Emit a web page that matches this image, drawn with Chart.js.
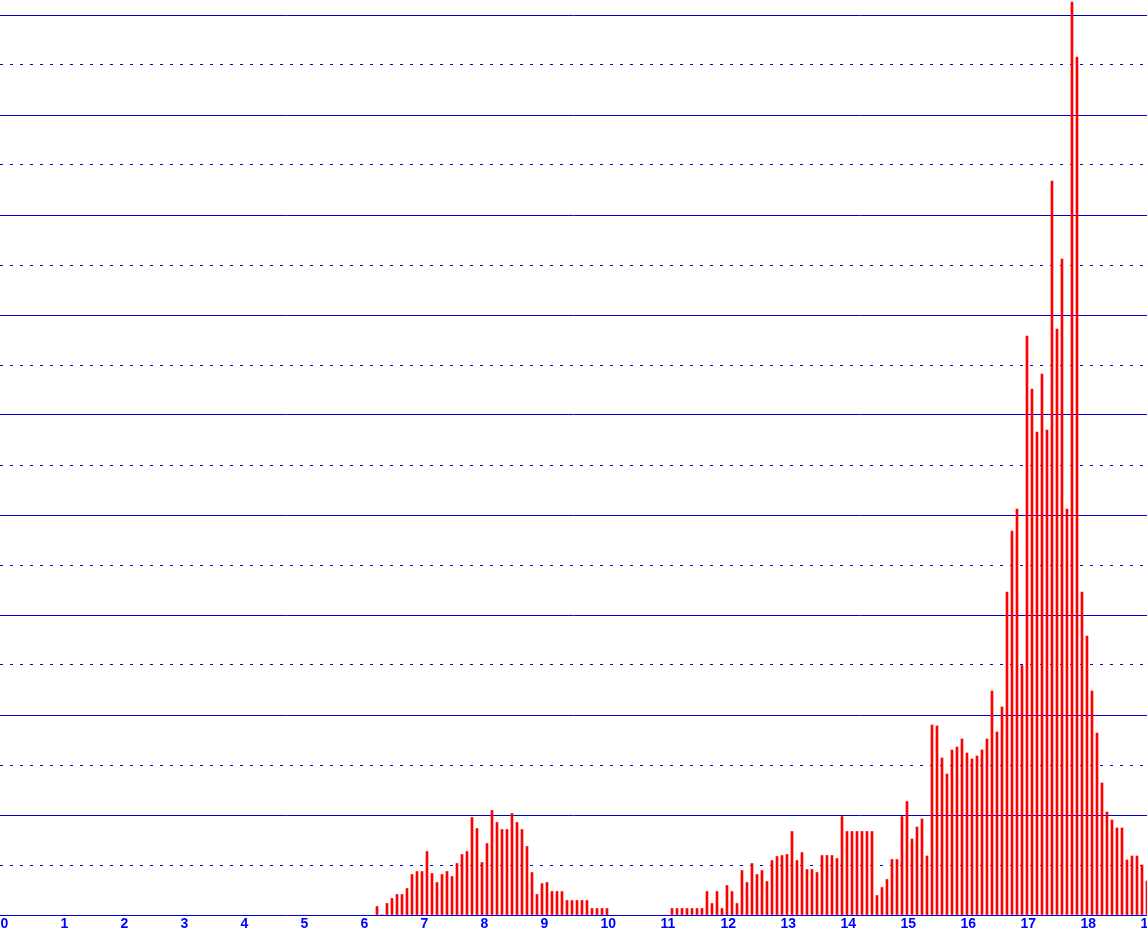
<!DOCTYPE html>
<html>
<head>
<meta charset="utf-8">
<title>Histogram by hour</title>
<script src="https://cdn.jsdelivr.net/npm/chart.js@4.4.1/dist/chart.umd.min.js"></script>
<style>
  html, body { margin: 0; padding: 0; background: #fff; overflow: hidden; }
  #wrap { position: relative; width: 1147px; height: 935px; }
</style>
</head>
<body>
<div id="wrap"><canvas id="histChart"></canvas></div>
<script>
// 5-minute bins, index 0 = 0:00
const BIN_MINUTES = 5;

// 6:10 - 10:05
const morningStart = 74;
const morningBins = [
  1.7, 0, 2.3, 3.3, 4.1, 4.1, 5.3, 8.1, 8.7, 8.7, 12.7, 8.3,
  6.5, 8.1, 8.7, 7.7, 10.3, 12.1, 12.7, 19.5, 17.3, 10.5, 14.3, 20.9,
  18.5, 17.1, 17.1, 20.3, 18.5, 17.1, 13.7, 8.5, 4.1, 6.3, 6.5, 4.7,
  4.7, 4.7, 2.9, 2.9, 2.9, 2.9, 2.9, 1.3, 1.3, 1.3, 1.3
];

// 11:05 - 15:05
const middayStart = 133;
const middayBins = [
  1.3, 1.3, 1.3, 1.3, 1.3, 1.3, 1.3, 4.7, 2.3, 4.7, 1.3, 5.9,
  4.7, 2.3, 8.9, 6.5, 10.3, 8.1, 8.9, 6.7, 10.9, 11.7, 11.9, 12.1,
  16.7, 10.9, 12.5, 9.1, 9.1, 8.5, 11.9, 11.9, 11.9, 11.3, 19.7, 16.7,
  16.7, 16.7, 16.7, 16.7, 16.7, 3.9, 5.5, 7.1, 11.1, 11.1, 19.7, 22.7
];

// 15:05 - 19:05
const eveningStart = 181;
const eveningBins = [
  15.2, 17.6, 19.2, 11.8, 38.0, 37.8, 31.4, 28.2, 33.0, 33.6, 35.2, 32.4,
  31.2, 31.8, 33.0, 35.2, 44.8, 36.6, 41.6, 64.6, 76.8, 81.2, 49.9, 115.8,
  105.2, 96.6, 108.2, 97.0, 146.8, 117.2, 131.2, 81.2, 182.6, 171.6, 64.6, 55.8,
  44.8, 36.4, 26.4, 20.6, 19.0, 17.4, 17.4, 11.0, 11.8, 11.8, 10.0, 6.8
];

const hourTicks = [0, 1, 2, 3, 4, 5, 6, 7, 8, 9, 10, 11, 12, 13, 14, 15, 16, 17, 18, 19];
const levelTicks = [0, 10, 20, 30, 40, 50, 60, 70, 80, 90, 100, 110, 120, 130, 140, 150, 160, 170, 180];
const yMax = 183;

function toPoints(start, values) {
    return values.map((v, i) => ({ x: (start + i + 0.5) * BIN_MINUTES / 60, y: v }));
}

const points = [].concat(
    toPoints(morningStart, morningBins),
    toPoints(middayStart, middayBins),
    toPoints(eveningStart, eveningBins)
);

const ctx = document.getElementById('histChart').getContext('2d');
const histChart = new Chart(ctx, {
    type: 'bar',
    data: {
        datasets: [{
            data: points,
            backgroundColor: '#ff0000',
            borderWidth: 0,
            barThickness: 2
        }]
    },
    options: {
        responsive: true,
        maintainAspectRatio: false,
        animation: false,
        layout: { padding: 0 },
        plugins: {
            legend: { display: false },
            tooltip: { enabled: false }
        },
        scales: {
            x: {
                type: 'linear',
                bounds: 'data',
                offset: false,
                min: -0.075,
                max: 19.042,
                grid: { display: false, drawTicks: false, offset: false },
                border: { display: false },
                afterBuildTicks: s => { s.ticks = hourTicks.map(v => ({ value: v })); },
                afterFit: s => { s.paddingLeft = 0; s.paddingRight = 0; s.height = 20; },
                ticks: {
                    autoSkip: false,
                    maxRotation: 0,
                    align: 'start',
                    labelOffset: -4,
                    padding: 1,
                    color: '#0000ff',
                    font: { family: 'Liberation Sans', size: 14, weight: 'bold' },
                    callback: v => String(v)
                }
            },
            y: {
                bounds: 'data',
                min: 0,
                max: yMax,
                afterBuildTicks: s => { s.ticks = levelTicks.map(v => ({ value: v })); },
                afterFit: s => { s.width = 0; s.paddingTop = 0; s.paddingBottom = 0; },
                ticks: { display: false },
                grid: { color: '#0000dd', lineWidth: 1, drawTicks: false },
                border: {
                    display: false,
                    // solid every second line, dotted in between
                    dash: c => (c.tick && c.tick.value % 20 !== 0) ? [3, 7] : []
                }
            }
        }
    }
});
</script>
</body>
</html>
